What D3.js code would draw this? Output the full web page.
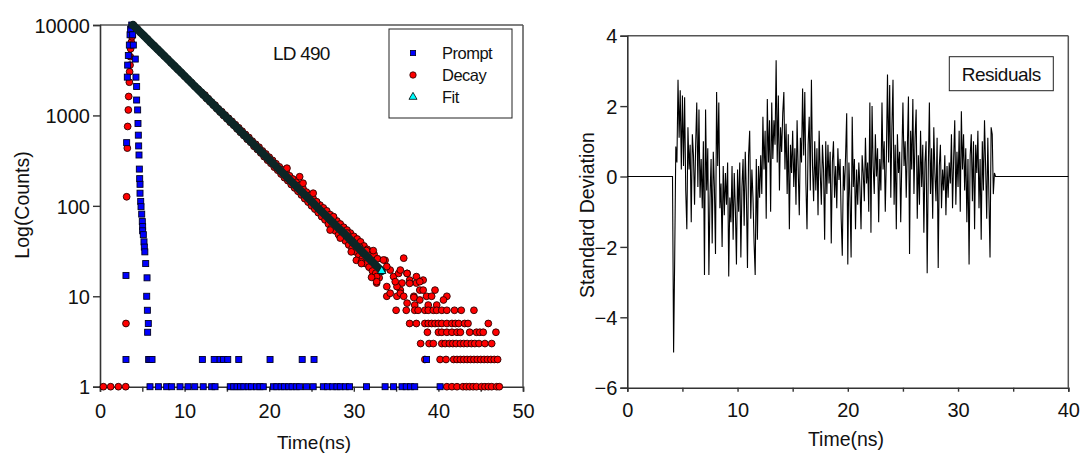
<!DOCTYPE html>
<html><head><meta charset="utf-8">
<script src="https://cdn.jsdelivr.net/npm/d3@7"></script>
<style>
html,body{margin:0;padding:0;background:#fff;}
svg{display:block;font-family:"Liberation Sans",Arial,sans-serif;}
</style></head>
<body><svg id="c" width="1080" height="457"></svg>
<script>
// ---------------- DATA ----------------
const leftXTicks = [0,10,20,30,40,50];
const leftXMinor = [5,15,25,35,45];
const leftYTicks = [1,10,100,1000,10000];
const rightXTicks = [0,10,20,30,40];
const rightXMinor = [5,15,25,35];
const rightYTicks = [-6,-4,-2,0,2,4];
const legendLabels = ["Prompt","Decay","Fit"];

// Prompt (instrument response): [time ns, counts]
const promptPoints = [
 [3.07,2],[3.07,17],[3.15,500],[3.23,2650],[3.27,3600],[3.35,4600],[3.47,6000],[3.55,7800],[3.62,9000],[3.75,10000],
 [3.86,7800],[3.94,6000],[4.17,4200],[4.25,2650],[4.33,2090],[4.33,1480],[4.45,1150],[4.49,815],[4.53,605],[4.57,460],
 [4.61,365],[4.65,255],[4.69,200],[4.73,173],[4.73,138],[4.81,112],[4.85,98],[4.93,81],[5.0,67],[5.04,59],[5.04,53],
 [5.12,48],[5.2,40],[5.24,35],[5.3,31],[5.4,23],[5.56,16],[5.52,10],[5.6,7],[5.71,5],[5.63,4],[5.75,2],[5.91,2],[6.15,2],
 [12.1,2],[13.5,2],[14.2,2],[14.6,2],[15.1,2],[16.4,2],[20.1,2],[23.9,2],[25.3,2],[38.6,2],
 [5.91,1],[6.9,1],[7.88,1],[8.47,1],[9.46,1],[10.4,1],[11.2,1],[12.2,1],[13.2,1],[13.6,1],[15.4,1],[15.8,1],[16.2,1],
 [16.6,1],[17.0,1],[17.5,1],[17.9,1],[18.5,1],[18.9,1],[19.3,1],[20.5,1],[20.9,1],[21.4,1],[21.8,1],[22.3,1],[22.7,1],
 [23.2,1],[23.6,1],[24.4,1],[25.2,1],[26.4,1],[26.9,1],[27.5,1],[28.0,1],[28.4,1],[29.0,1],[29.5,1],[31.5,1],[33.7,1],
 [34.7,1],[35.7,1],[36.2,1],[36.7,1],[37.2,1],[40.2,1]
];

// Decay: rise
const decayRise = [
 [0.4,1],[1.26,1],[2.17,1],[3.04,1],[3.07,5],[3.15,126],[3.23,435],[3.27,755],[3.35,1150],[3.39,1620],[3.47,2330],
 [3.5,3040],[3.55,3600],[3.57,4470],[3.62,5450],[3.7,6450],[3.78,7400],[3.86,8900],[3.94,10000]
];
// Decay: along the exponential
const decayMain = [
 [4.0,9800],[4.4,9100],[4.8,8200],[5.2,7600],[5.6,7000],[6.0,6350],[6.4,5900],[6.8,5400],[7.2,4950],[7.6,4550],
 [8.0,4200],[8.4,3820],[8.8,3530],[9.2,3230],[9.6,2980],[10.0,2720],[10.4,2500],[10.8,2310],[11.2,2100],[11.6,1950],
 [12.0,1800],[12.2,1690],[12.4,1680],[12.6,1540],[12.8,1530],[13.0,1420],[13.2,1400],[13.4,1300],[13.6,1300],[13.8,1190],
 [14.0,1180],[14.2,1090],[14.4,1100],[14.6,1000],[14.8,1010],[15.0,920],[15.2,930],[15.4,840],[15.6,860],[15.8,780],
 [16.0,790],[16.2,710],[16.4,730],[16.6,650],[16.8,670],[17.0,600],[17.2,615],[17.4,545],[17.6,570],[17.8,505],
 [18.0,520],[18.2,455],[18.4,480],[18.6,420],[18.8,445],[19.0,385],[19.2,405],[19.4,350],[19.6,375],[19.8,320],
 [20.0,345],[20.2,295],[20.4,318],[20.6,268],[20.8,292],[21.0,248],[21.2,270],[21.4,225],[21.6,250],[21.8,205],
 [22.0,235],[22.2,190],[22.4,215],[22.6,172],[22.8,198],[23.0,158],[23.2,182],[23.4,145],[23.6,168],[23.8,132],
 [24.0,155],[24.2,120],[24.4,142],[24.6,110],[24.8,130],[25.0,100],[25.2,120],[25.4,92],[25.6,110],[25.8,84],
 [26.0,102],[26.2,76],[26.4,95],[26.6,70],[26.8,88],[27.0,63],[27.2,80],[27.4,58],[27.6,74],[27.8,53],
 [28.0,68],[28.2,48],[28.4,63],[28.6,45],[28.8,58],[29.0,41],[29.2,54],[29.4,37],[29.6,50],[29.8,34],
 [30.0,46],[30.2,31],[30.4,43],[30.6,28],[30.8,40],[31.0,26],[31.2,36],[31.4,23],[31.6,33],[31.8,21],
 [32.0,31],[32.2,19],[32.4,29],[32.6,18],[32.8,26],[33.0,16]
];
// Decay: scattered points near the end of the decay
const decayScatter = [
 [22.1,261],[23.6,210],[24.0,178],[25.2,138],[25.6,111],[26.0,90],[27.2,70],[27.2,54],[28.4,44],[27.6,76],
 [29.2,50],[29.9,40],[30.7,35],[31.1,30],[31.5,32],[32.3,32],[30.3,25],[30.9,24],[32.7,14],[32.7,16.5],
 [33.7,25],[34.3,19.5],[34.7,16.5],[33.9,12.8],[35.3,17.9],[35.7,14],[36.3,17.9],[36.6,15.1],[37.4,14],[37.8,11.7],
 [38.2,15.1],[33.9,10],[35.1,10],[37.1,10],[35.5,11.7],[35.9,26.4],[33.9,21.3],[35.5,19.5],[37.4,16.5],[36.6,13.9],
 [34.3,10.8],[35.5,10.8],[36.3,8.4],[37.2,8],[37.8,9.1],[38.6,10],[39.6,11.7],[39.2,10],[41.0,10],[40.6,9.1],
 [39.8,8],[33.5,25.2],[32.7,14.5],[35.1,12.8],[32.1,16.2],[30.9,23],[29.7,31],[37.8,14.5],[36.3,17.9],[34.9,14.5],
 [38.2,11.7],[38.8,8],[37.1,9.7],[35.9,10]
];
// Decay: quantised tail (low counts)
const decayTail = [
 [41.0,1],[41.6,1],[42.2,1],[42.9,1],[43.3,1],[43.7,1],[44.1,1],[44.5,1],[45.1,1],[45.5,1],[45.9,1],[46.3,1],[46.9,1],[47.2,1],
 [38.4,2],[40.2,2],[40.9,2],[41.8,2],[42.2,2],[42.6,2],[43.0,2],[43.4,2],[43.8,2],[44.2,2],[44.6,2],[45.0,2],[45.4,2],[45.8,2],[46.2,2],[46.6,2],[47.0,2],
 [37.9,3],[38.9,3],[39.4,3],[40.4,3],[40.8,3],[41.3,3],[41.7,3],[42.1,3],[42.6,3],[43.0,3],[43.4,3],[43.9,3],[44.3,3],[44.8,3],[45.5,3],[46.3,3],
 [38.7,4],[40.0,4],[40.4,4],[41.0,4],[41.6,4],[42.2,4],[42.6,4],[43.7,4],[44.5,4],[44.9,4],[45.3,4],[46.8,4],
 [36.6,5],[37.4,5],[38.4,5],[38.8,5],[39.2,5],[39.6,5],[40.0,5],[40.4,5],[41.0,5],[41.6,5],[42.0,5],[42.4,5],[43.1,5],[43.5,5],[45.9,5],
 [35.0,7],[36.2,7],[37.2,7],[37.6,7],[38.4,7],[38.8,7],[39.4,7],[39.8,7],[40.4,7],[41.0,7],[41.9,7],[42.7,7],[44.2,7]
];

// Fit
const fitTime   = [3.9,5,6,7,8,9,10,11,12,13,14,15,16,17,18,19,20,21,22,23,24,25,26,27,28,29,30,31,32,33,33.3];
const fitCounts = [10000,7910,6400,5170,4180,3380,2730,2200,1780,1440,1160,940,760,614,497,401,324,262,212,171,138,112,90,73,59,48,38.5,31,25,20.3,19];

// Residuals (standard deviations), one value every 0.1 ns from 4.2 ns
const residStart = 4.2, residStep = 0.1;
const residValues = [
 -5.0,-2.27,0.85,0.4,2.75,1.1,2.45,0.2,
 2.3,0.3,2.25,-0.4,-1.5,1.4,0.2,0.9,-1.3,1.2,
 0.6,-0.8,0.9,2.1,-0.3,1.9,-0.6,0.5,-0.9,1.0,
 -2.8,1.9,-0.4,0.8,-2.8,-0.6,0.5,-1.9,0.7,-0.3,
 -2.2,2.4,0.3,2.1,-0.9,-0.2,-2.0,0.3,-1.1,0.1,
 -0.8,0.4,-2.84,-0.6,-1.3,0.3,-1.8,0.1,-0.9,-2.5,
 0.2,-1.0,0.4,-2.3,-0.3,0.5,-1.4,0.7,-0.5,-2.6,
 0.6,1.3,-1.2,0.2,-0.6,-1.9,-2.8,0.5,-1.8,0.3,
 -0.6,0.6,-0.5,1.7,0.2,1.3,-1.2,2.2,0.4,1.6,
 -1.0,2.1,0.5,1.6,0.9,3.3,0.4,2.3,-0.4,1.4,
 0.7,1.8,2.4,0.2,1.5,-0.5,1.2,-1.5,0.9,0.1,
 1.3,-0.3,0.8,-0.8,1.6,0.2,-1.1,1.1,0.4,2.5,
 0.6,2.4,-0.2,-1.5,0.9,1.7,-0.4,2.75,0.3,-0.7,
 1.0,-0.4,0.8,-1.1,1.3,0.1,-0.8,0.9,0.2,-1.8,
 1.0,-0.5,0.9,-0.2,0.7,-1.9,0.4,1.0,-0.6,0.3,
 -0.9,0.8,-0.1,0.5,-1.2,-2.25,0.3,-0.4,0.6,1.8,
 -2.5,0.4,-0.6,-2.3,1.7,-0.3,0.5,-1.5,0.2,-0.8,
 0.4,-0.3,-1.5,0.6,0.1,-0.7,1.1,-0.2,0.4,-1.0,
 2.1,-1.6,2.0,0.3,-0.5,1.2,0.0,0.8,-1.3,0.5,
 -0.4,2.1,0.2,1.0,-1.0,0.6,2.9,0.4,2.6,-0.6,
 1.4,2.75,-0.8,0.9,-1.5,1.2,0.1,0.7,-1.3,0.5,
 2.1,0.3,1.0,-0.6,0.8,2.27,-2.2,1.3,0.2,2.2,
 -0.5,1.1,1.9,-1.2,0.6,-0.8,1.3,-0.3,0.9,-1.6,
 0.4,1.0,-2.75,0.2,2.1,-0.5,0.8,-1.2,1.4,0.1,
 -0.7,1.1,-2.6,0.3,0.9,-0.9,0.2,-0.4,0.6,-1.1,
 0.3,-0.6,0.4,-0.2,1.2,-0.9,0.5,1.6,-0.8,0.7,
 -0.3,1.3,-1.0,1.85,0.2,1.2,-0.4,0.8,-1.3,0.5,
 -2.5,0.6,1.2,-0.7,1.0,-1.5,0.9,0.1,1.3,-0.9,
 0.5,-1.8,1.0,-0.4,1.6,0.3,-1.2,1.1,-0.6,-2.3,
 1.4,1.2,-0.5,0.1
];
const residLead = [[0,0],[4.1,0]];
const residTail = [[33.4,0],[40,0]];

// ---------------- DRAW ----------------
const svg = d3.select("#c");
const FONT = "20px";
const axisColor = "#333";
const frameColor = "#555";

function styleAxis(g, tickLen){
  g.select(".domain").attr("stroke", axisColor).attr("stroke-width", 1.6);
  g.selectAll(".tick line").attr("stroke", axisColor).attr("stroke-width", 1.4);
  g.selectAll(".tick text").attr("fill", "#111").style("font-size", FONT)
    .style("font-family", '"Liberation Sans",Arial,sans-serif');
}

// ===== Left chart =====
const xL = d3.scaleLinear().domain([0,50]).range([100,523]);
const yL = d3.scaleLog().domain([1,10000]).range([386.7,25]);

// frame (top & right)
svg.append("line").attr("x1",xL(0)).attr("x2",xL(50)).attr("y1",yL(10000)).attr("y2",yL(10000))
  .attr("stroke",frameColor).attr("stroke-width",1.5);
svg.append("line").attr("x1",xL(50)).attr("x2",xL(50)).attr("y1",yL(10000)).attr("y2",yL(1))
  .attr("stroke",frameColor).attr("stroke-width",1.5);

const gxL = svg.append("g").attr("transform",`translate(0,${yL(1)})`)
  .call(d3.axisBottom(xL).tickValues(leftXTicks.concat(leftXMinor))
    .tickFormat(d => leftXTicks.includes(d) ? d : "").tickSize(5).tickPadding(12));
styleAxis(gxL);
const gyL = svg.append("g").attr("transform",`translate(${xL(0)},0)`)
  .call(d3.axisLeft(yL).tickValues(leftYTicks).tickFormat(d3.format("d")).tickSize(7).tickPadding(3));
styleAxis(gyL);
gyL.selectAll(".tick text").attr("dy","0.36em");

// Decay circles
const allDecay = decayRise.concat(decayMain, decayScatter, decayTail);
svg.append("g").selectAll("circle").data(allDecay).join("circle")
  .attr("cx", d => xL(d[0])).attr("cy", d => yL(d[1])).attr("r", 3.4)
  .attr("fill", "#ff0000").attr("stroke", "#2a0000").attr("stroke-width", 0.9);

// Prompt squares
svg.append("g").selectAll("rect").data(promptPoints).join("rect")
  .attr("x", d => xL(d[0]) - 3).attr("y", d => yL(d[1]) - 3).attr("width", 6).attr("height", 6)
  .attr("fill", "#0000ff").attr("stroke", "#000022").attr("stroke-width", 0.9);

// Fit: dense triangles forming a dark band
const fitData = fitTime.map((t,i) => [t, fitCounts[i]]);
svg.append("path").datum(fitData)
  .attr("d", d3.line().x(d => xL(d[0])).y(d => yL(d[1])))
  .attr("fill","none").attr("stroke","#0c2626").attr("stroke-width",8).attr("stroke-linecap","round");
const tri = d3.symbol().type(d3.symbolTriangle).size(30);
svg.append("g").selectAll("path").data(fitData.slice(-1)).join("path")
  .attr("d", tri).attr("transform", d => `translate(${xL(d[0])},${yL(d[1])})`)
  .attr("fill","#00ffff").attr("stroke","#000").attr("stroke-width",0.8);

// "LD 490"
svg.append("text").attr("x",273).attr("y",60).text("LD 490")
  .style("font-size","19px").style("letter-spacing","-0.8px").attr("fill","#111");

// Legend
svg.append("rect").attr("x",389).attr("y",29).attr("width",123).attr("height",89)
  .attr("fill","#fff").attr("stroke","#222").attr("stroke-width",1);
const legY = [53,75,97];
svg.append("rect").attr("x",413-2.6).attr("y",legY[0]-2.6).attr("width",5.2).attr("height",5.2)
  .attr("fill","#0000ff").attr("stroke","#000022").attr("stroke-width",0.8);
svg.append("circle").attr("cx",413).attr("cy",legY[1]).attr("r",3.2)
  .attr("fill","#ff0000").attr("stroke","#2a0000").attr("stroke-width",0.8);
svg.append("path").attr("d",d3.symbol().type(d3.symbolTriangle).size(28))
  .attr("transform",`translate(413,${legY[2]})`).attr("fill","#00ffff").attr("stroke","#000").attr("stroke-width",0.8);
svg.append("g").selectAll("text").data(legendLabels).join("text")
  .attr("x",442).attr("y",(d,i)=>legY[i]+6).text(d=>d)
  .style("font-size","16.5px").style("letter-spacing","-0.5px").attr("fill","#111");

// Axis titles
svg.append("text").attr("x",314).attr("y",449).attr("text-anchor","middle").text("Time(ns)")
  .style("font-size","19px").attr("fill","#111");
svg.append("text").attr("transform","translate(29,205) rotate(-90)").attr("text-anchor","middle")
  .text("Log(Counts)").style("font-size","19.5px").attr("fill","#111");

// ===== Right chart =====
const xR = d3.scaleLinear().domain([0,40]).range([627.3,1068.3]);
const yR = d3.scaleLinear().domain([-6,4]).range([387.7,35.7]);

svg.append("line").attr("x1",xR(0)).attr("x2",xR(40)).attr("y1",yR(4)).attr("y2",yR(4))
  .attr("stroke",frameColor).attr("stroke-width",1.5);
svg.append("line").attr("x1",xR(40)).attr("x2",xR(40)).attr("y1",yR(4)).attr("y2",yR(-6))
  .attr("stroke",frameColor).attr("stroke-width",1.5);

const gxR = svg.append("g").attr("transform",`translate(0,${yR(-6)})`)
  .call(d3.axisBottom(xR).tickValues(rightXTicks.concat(rightXMinor))
    .tickFormat(d => rightXTicks.includes(d) ? d : "").tickSize(4).tickPadding(11));
styleAxis(gxR);
const gyR = svg.append("g").attr("transform",`translate(${xR(0)},0)`)
  .call(d3.axisLeft(yR).tickValues(rightYTicks).tickSize(7).tickPadding(3));
styleAxis(gyR);
gyR.selectAll(".tick text").attr("dy","0.36em");

// residual line
const residData = residLead.concat(residValues.map((v,i) => [residStart + i*residStep, v]), residTail);
svg.append("path").datum(residData)
  .attr("d", d3.line().x(d => xR(d[0])).y(d => yR(d[1])))
  .attr("fill","none").attr("stroke","#000").attr("stroke-width",1.1).attr("stroke-linejoin","miter");

// Residuals box
svg.append("rect").attr("x",949.3).attr("y",56.7).attr("width",104).attr("height",34)
  .attr("fill","#fff").attr("stroke","#222").attr("stroke-width",1);
svg.append("text").attr("x",1001.3).attr("y",80.5).attr("text-anchor","middle").text("Residuals")
  .style("font-size","19px").style("letter-spacing","-0.5px").attr("fill","#111");

svg.append("text").attr("x",846).attr("y",446).attr("text-anchor","middle").text("Time(ns)")
  .style("font-size","19.5px").attr("fill","#111");
svg.append("text").attr("transform","translate(594,215) rotate(-90)").attr("text-anchor","middle")
  .text("Standard Deviation").style("font-size","19.5px").attr("fill","#111");
</script>
</body></html>
